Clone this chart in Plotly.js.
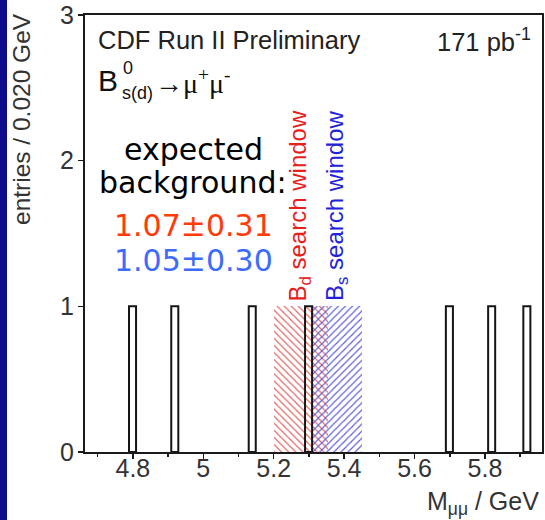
<!DOCTYPE html>
<html>
<head>
<meta charset="utf-8">
<script src="https://cdn.plot.ly/plotly-3.0.1.min.js"></script>
<style>html,body{margin:0;padding:0;background:#fff;}#chart{width:545px;height:520px;}</style>
</head>
<body>
<div id="chart"></div>
<script>
// ---- data ----
var binCenters = [4.799, 4.919, 5.139, 5.299, 5.699, 5.819, 5.919]; // GeV
var binCounts  = [1, 1, 1, 1, 1, 1, 1];
var binWidth   = 0.02;
var bdWindow   = [5.200, 5.355];   // Bd search window (GeV)
var bsWindow   = [5.310, 5.450];   // Bs search window (GeV)
var windowHeight = [1];
var xTicks = [4.8, 5, 5.2, 5.4, 5.6, 5.8];
var xTickText = ['4.8', '5', '5.2', '5.4', '5.6', '5.8'];
var yTicks = [0, 1, 2, 3];
var bgBd = '1.07±0.31';
var bgBs = '1.05±0.30';

// ---- layout geometry ----
var W = 545, H = 520, mL = 85, mR = 3, mT = 15, mB = 68;
var pw = W - mL - mR, ph = H - mT - mB;
var xRange = [4.664, 5.962], yRange = [0, 3];
function px(x) { return (x - mL) / pw; }          // pixel -> paper x
function py(y) { return (H - mB - y) / ph; }      // pixel -> paper y

var sans = 'Liberation Sans, Arial, sans-serif';

var traces = [
  {
    type: 'bar', x: [(bdWindow[0] + bdWindow[1]) / 2], y: windowHeight,
    width: [bdWindow[1] - bdWindow[0]],
    marker: { color: 'rgba(0,0,0,0)', line: { width: 0 },
      pattern: { shape: '\\', fgcolor: '#e06060', bgcolor: 'rgba(0,0,0,0)', size: 5, solidity: 0.22 } },
    hoverinfo: 'skip'
  },
  {
    type: 'bar', x: [(bsWindow[0] + bsWindow[1]) / 2], y: windowHeight,
    width: [bsWindow[1] - bsWindow[0]],
    marker: { color: 'rgba(0,0,0,0)', line: { width: 0 },
      pattern: { shape: '/', fgcolor: '#5a5ad8', bgcolor: 'rgba(0,0,0,0)', size: 5, solidity: 0.22 } },
    hoverinfo: 'skip'
  },
  {
    type: 'bar', x: binCenters, y: binCounts, width: binWidth,
    marker: { color: 'rgba(0,0,0,0)', line: { color: '#151515', width: 2 } },
    hoverinfo: 'skip'
  }
];

var axisCommon = {
  showgrid: false, zeroline: false, showline: true, mirror: true,
  linecolor: '#1a1a1a', linewidth: 2,
  ticks: 'outside', ticklen: 5, tickwidth: 1.5, tickcolor: '#1a1a1a',
  tickfont: { family: sans, size: 25, color: '#333' }
};

var layout = {
  width: W, height: H,
  margin: { l: mL, r: mR, t: mT, b: mB, pad: 0 },
  paper_bgcolor: '#ffffff', plot_bgcolor: '#ffffff',
  showlegend: false, hovermode: false, barmode: 'overlay', bargap: 0,
  xaxis: Object.assign({}, axisCommon, {
    range: xRange, tickmode: 'array', tickvals: xTicks, ticktext: xTickText,
    ticklabelstandoff: -12,
    minor: { ticks: 'outside', tick0: 4.7, dtick: 0.2, ticklen: 3, tickwidth: 1.5, tickcolor: '#1a1a1a', showgrid: false }
  }),
  yaxis: Object.assign({}, axisCommon, {
    range: yRange, tickmode: 'array', tickvals: yTicks, ticklabelstandoff: -1
  }),
  shapes: [
    { type: 'rect', xref: 'paper', yref: 'paper', x0: px(0), x1: px(7), y0: py(H), y1: py(0),
      fillcolor: '#0c0c8a', line: { width: 0 }, layer: 'below' }
  ],
  annotations: [
    { text: 'entries / 0.020 GeV', textangle: -90, xref: 'paper', yref: 'paper',
      x: px(21), y: py(11), xanchor: 'center', yanchor: 'top', showarrow: false,
      font: { family: sans, size: 24.5, color: '#333' } },
    { text: 'M<sub>μμ</sub> / GeV', xref: 'paper', yref: 'paper',
      x: px(541), y: py(503), xanchor: 'right', yanchor: 'middle', showarrow: false,
      font: { family: sans, size: 25, color: '#333' } },
    { text: 'CDF Run II Preliminary', xref: 'paper', yref: 'paper',
      x: px(96), y: py(40), xanchor: 'left', yanchor: 'middle', showarrow: false,
      font: { family: sans, size: 25.5, color: '#222' } },
    { text: '171 pb<sup>-1</sup>', xref: 'paper', yref: 'paper',
      x: px(533), y: py(40), xanchor: 'right', yanchor: 'middle', showarrow: false,
      font: { family: sans, size: 25.5, color: '#222' } },
    { text: 'B', xref: 'paper', yref: 'paper',
      x: px(96), y: py(81), xanchor: 'left', yanchor: 'middle', showarrow: false,
      font: { family: sans, size: 30, color: '#111' } },
    { text: '0', xref: 'paper', yref: 'paper',
      x: px(121), y: py(68), xanchor: 'left', yanchor: 'middle', showarrow: false,
      font: { family: sans, size: 18, color: '#111' } },
    { text: 's(d)', xref: 'paper', yref: 'paper',
      x: px(120), y: py(93), xanchor: 'left', yanchor: 'middle', showarrow: false,
      font: { family: sans, size: 18, color: '#111' } },
    { text: '→μ<sup>+</sup>μ<sup>-</sup>', xref: 'paper', yref: 'paper',
      x: px(153), y: py(82), xanchor: 'left', yanchor: 'middle', showarrow: false,
      font: { family: 'Liberation Serif, serif', size: 28, color: '#111' } },
    { text: 'expected', xref: 'paper', yref: 'paper',
      x: px(193), y: py(149), xanchor: 'center', yanchor: 'middle', showarrow: false,
      font: { family: 'DejaVu Sans, Verdana, sans-serif', size: 30, color: '#000' } },
    { text: 'background:', xref: 'paper', yref: 'paper',
      x: px(193), y: py(182), xanchor: 'center', yanchor: 'middle', showarrow: false,
      font: { family: 'DejaVu Sans, Verdana, sans-serif', size: 30, color: '#000' } },
    { text: bgBd, xref: 'paper', yref: 'paper',
      x: px(193), y: py(225), xanchor: 'center', yanchor: 'middle', showarrow: false,
      font: { family: 'DejaVu Sans, Verdana, sans-serif', size: 30, color: '#ff3b0a' } },
    { text: bgBs, xref: 'paper', yref: 'paper',
      x: px(193), y: py(260), xanchor: 'center', yanchor: 'middle', showarrow: false,
      font: { family: 'DejaVu Sans, Verdana, sans-serif', size: 30, color: '#3d6bff' } },
    { text: 'B<sub>d</sub> search window', textangle: -90, xref: 'paper', yref: 'paper',
      x: px(299), y: py(304), xanchor: 'center', yanchor: 'bottom', showarrow: false,
      font: { family: sans, size: 24, color: '#e8201c' } },
    { text: 'B<sub>s</sub> search window', textangle: -90, xref: 'paper', yref: 'paper',
      x: px(336), y: py(303), xanchor: 'center', yanchor: 'bottom', showarrow: false,
      font: { family: sans, size: 24, color: '#2222d8' } }
  ]
};

Plotly.newPlot('chart', traces, layout, { staticPlot: true, displayModeBar: false });
</script>
</body>
</html>
